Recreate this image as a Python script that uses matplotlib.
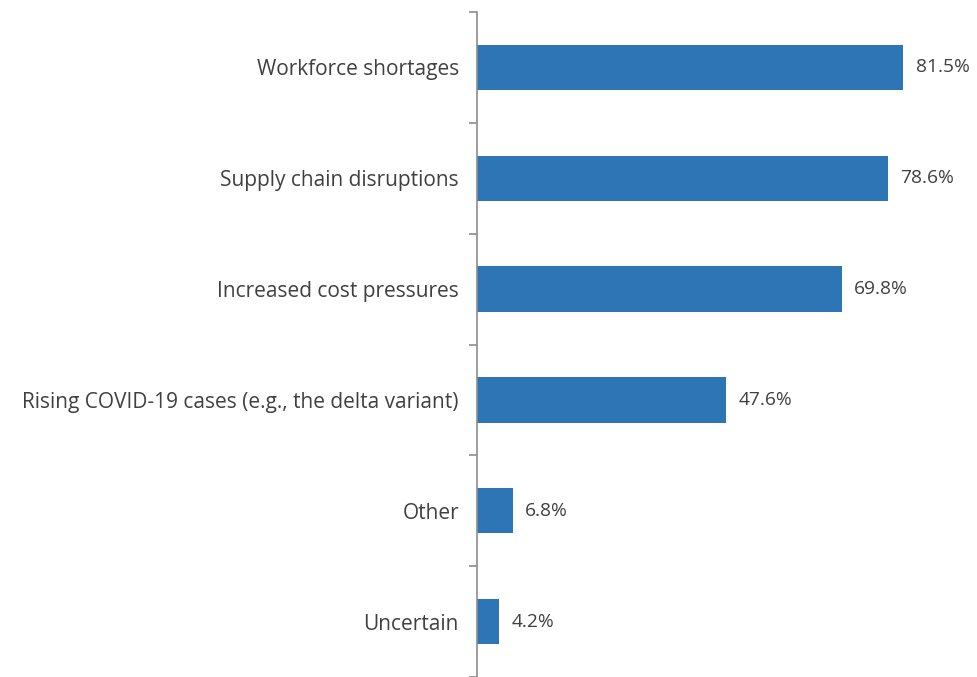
import matplotlib.pyplot as plt
import numpy as np

categories = ["Workforce shortages", "Supply chain disruptions", "Increased cost pressures",
              "Rising COVID-19 cases (e.g., the delta variant)", "Other", "Uncertain"]
values = [81.5, 78.6, 69.8, 47.6, 6.8, 4.2]
value_labels = ["81.5%", "78.6%", "69.8%", "47.6%", "6.8%", "4.2%"]

plt.rcParams['font.family'] = ['Open Sans', 'DejaVu Sans']

fig = plt.figure(figsize=(9.77, 6.77), dpi=100)
ax = fig.add_axes([477/977, 0.0, 1 - 477/977, 1 - 12/677])

y = np.arange(len(categories))
ax.barh(y, values, height=0.41, color="#2E75B6")
ax.set_ylim(len(categories) - 0.5, -0.5)
ax.set_xlim(0, 500/5.227)

for yi, v, lab in zip(y, values, value_labels):
    ax.annotate(lab, (v, yi), xytext=(9, 0), textcoords="offset points",
                va="center", ha="left", fontsize=13.8, color="#404040")

ax.set_yticks(y)
ax.set_yticklabels(categories, fontsize=15, color="#404040")
ax.tick_params(axis="y", which="major", length=0, pad=13)
ax.set_yticks(np.arange(-0.5, len(categories), 1), minor=True)
ax.tick_params(axis="y", which="minor", length=6, color="#8c8c8c", width=1.2)
ax.set_xticks([])

for s in ["top", "right", "bottom"]:
    ax.spines[s].set_visible(False)
ax.spines["left"].set_color("#8c8c8c")
ax.spines["left"].set_linewidth(1.2)

fig.savefig("out.png", dpi=100)
